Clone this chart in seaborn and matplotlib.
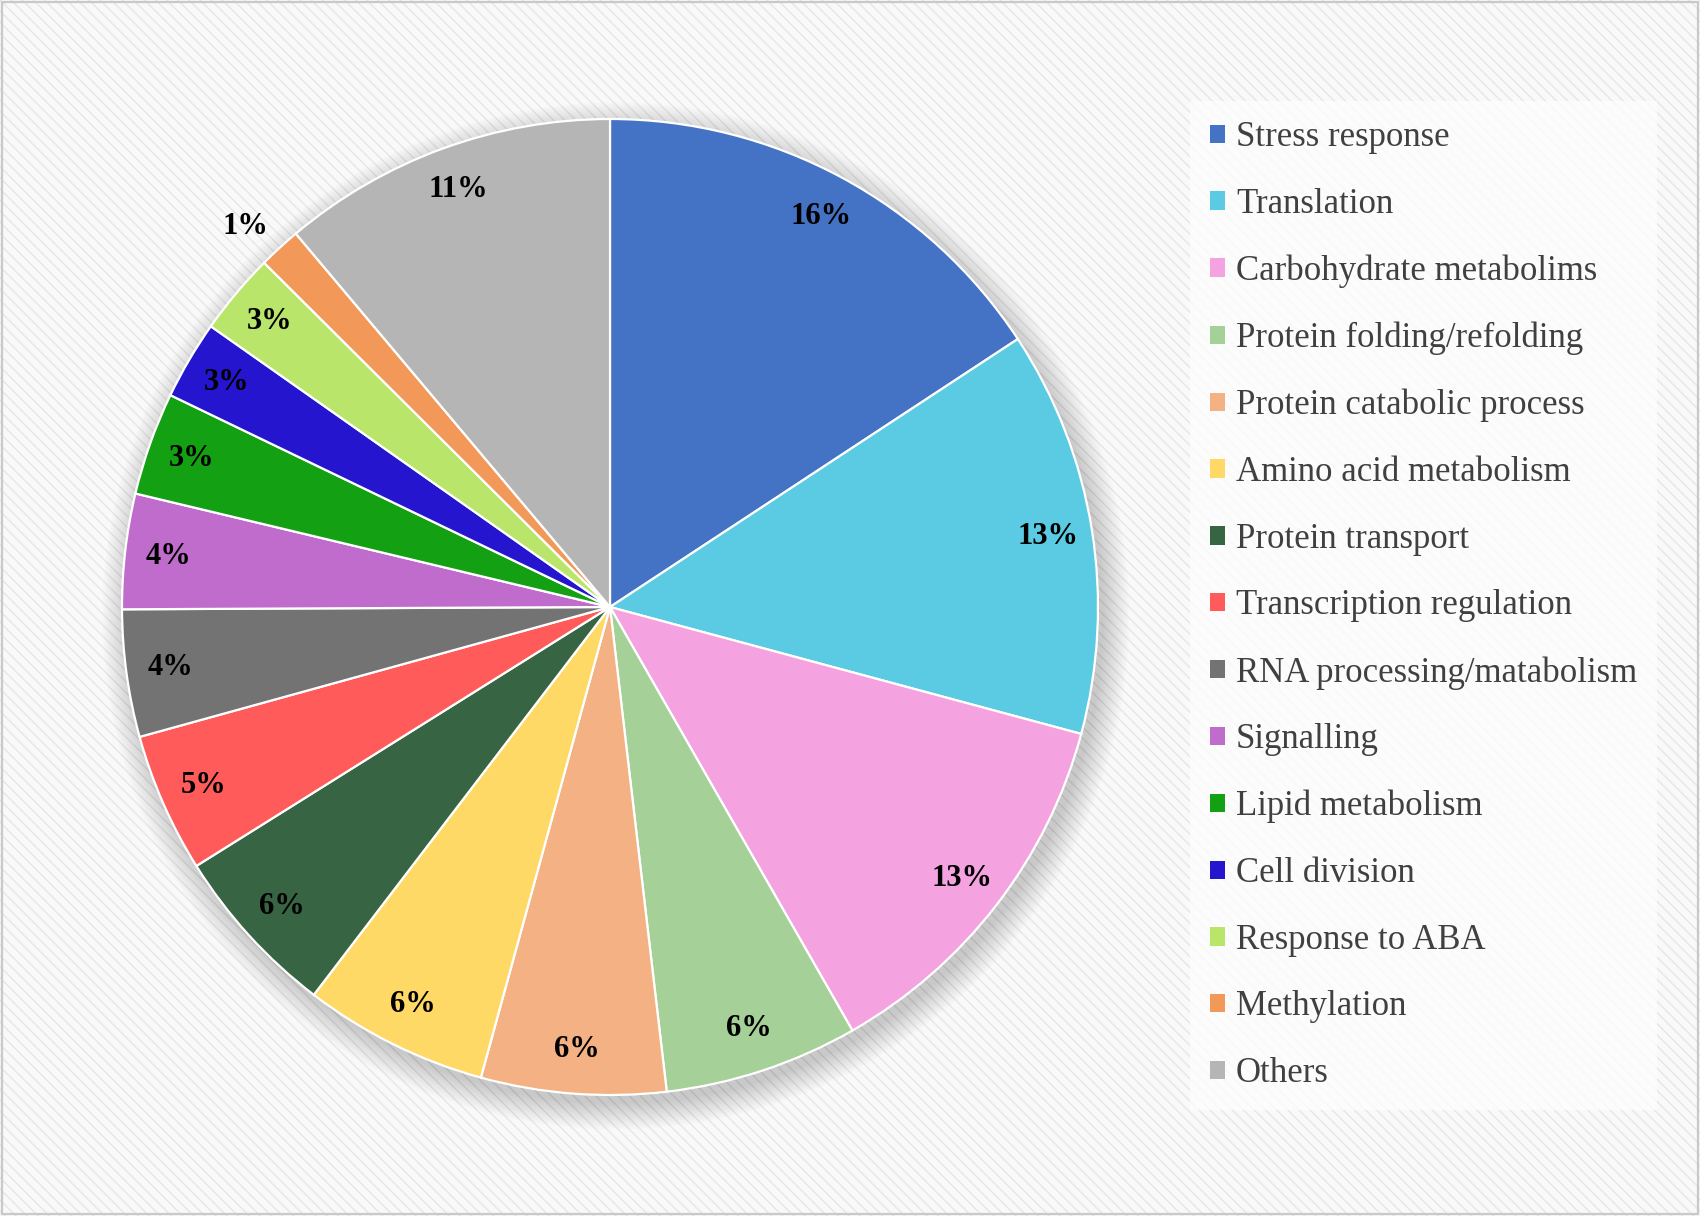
import numpy as np
import seaborn as sns
import matplotlib
matplotlib.use('Agg')
import matplotlib.pyplot as plt
from matplotlib.patches import Rectangle, Circle

categories = ['Stress response', 'Translation', 'Carbohydrate metabolims',
              'Protein folding/refolding', 'Protein catabolic process',
              'Amino acid metabolism', 'Protein transport',
              'Transcription regulation', 'RNA processing/matabolism',
              'Signalling', 'Lipid metabolism', 'Cell division',
              'Response to ABA', 'Methylation', 'Others']
shares = [15.7, 13.4, 12.5, 6.4, 6.1, 6.1, 5.7, 4.6, 4.2, 3.8, 3.4, 2.6, 2.7, 1.4, 11.1]
colors = ['#4472C4', '#5BCBE3', '#F4A3E0', '#A5D098', '#F4B183',
          '#FFD966', '#376442', '#FF5B5B', '#737373', '#C06CCC',
          '#13A113', '#2615CF', '#B9E56B', '#F29858', '#B5B5B5']
outside_labels = ['Methylation']

sns.set_style('white')
plt.rcParams['font.family'] = ['Liberation Serif', 'DejaVu Serif']

W, H = 1700, 1216
fig = plt.figure(figsize=(W / 100, H / 100), dpi=100)
fig.patch.set_facecolor('white')

# striped background and thin frame
fig.patches.append(Rectangle((0, 0), 1, 1, transform=fig.transFigure,
                             facecolor='#f9f9f9', edgecolor='#e6e6e6',
                             hatch='\\\\\\', linewidth=0, zorder=-10))
fig.patches.append(Rectangle((2 / W, 2 / H), 1 - 4 / W, 1 - 4 / H,
                             transform=fig.transFigure, fill=False,
                             edgecolor='#c9c9c9', linewidth=1.6, zorder=-5))

# pie axes: centre at (610, 607) px, radius 488 px
cx, cy, r = 610, 607, 488
side = 2.5 * r
ax = fig.add_axes([(cx - side / 2) / W, (H - cy - side / 2) / H, side / W, side / H])
ax.set_facecolor('none')

# soft shadow
for i in range(16):
    ax.add_patch(Circle((0.012, -0.018), 1.0 + i * 0.0035, facecolor='black',
                        edgecolor='none', alpha=0.011, zorder=0))

wedges, texts, autotexts = ax.pie(
    shares, colors=sns.color_palette(colors), startangle=90, counterclock=False,
    autopct='%1.0f%%', pctdistance=0.91, radius=1,
    wedgeprops=dict(edgecolor='white', linewidth=1.6),
    textprops=dict(fontsize=22, fontweight='bold', color='black'))
for w in wedges:
    w.set_zorder(2)
for t in autotexts:
    t.set_zorder(3)

for w, t, name in zip(wedges, autotexts, categories):
    if name in outside_labels:
        mid = np.deg2rad((w.theta1 + w.theta2) / 2 + 1.2)
        t.set_position((1.08 * np.cos(mid), 1.08 * np.sin(mid)))

ax.set_xlim(-1.25, 1.25)
ax.set_ylim(-1.25, 1.25)
ax.set_aspect('equal')
ax.axis('off')

leg = fig.legend(wedges, categories, loc='upper left',
                 bbox_to_anchor=(1190 / W, 1 - 101 / H),
                 fontsize=25, labelcolor='#404040', frameon=True,
                 handlelength=0.44, handleheight=0.44, handletextpad=0.3,
                 labelspacing=0.97, borderpad=0.58, borderaxespad=0,
                 fancybox=False)
leg.get_frame().set_facecolor('#fdfdfd')
leg.get_frame().set_edgecolor('none')
for h in leg.legend_handles:
    h.set_edgecolor('none')

fig.savefig('out.png', dpi=100, facecolor=fig.get_facecolor())
